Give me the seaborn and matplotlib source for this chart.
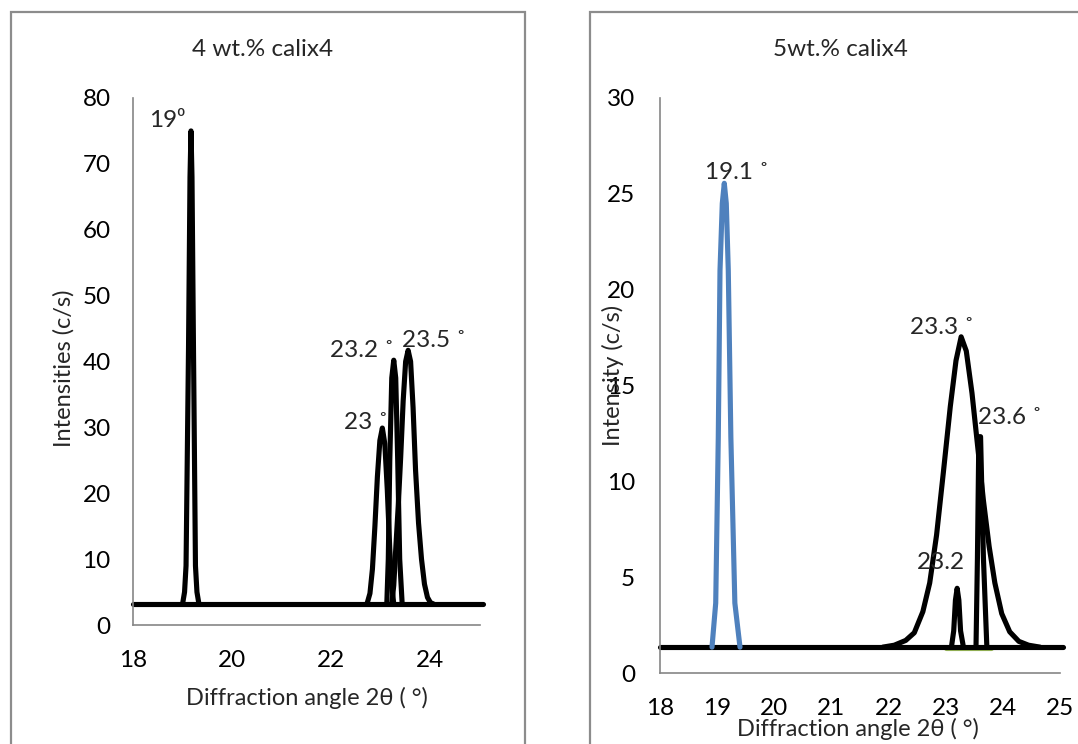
import matplotlib
matplotlib.use("Agg")
import matplotlib.pyplot as plt
from matplotlib.patches import Rectangle
import seaborn as sns
import pandas as pd

# ---------------- data ----------------
# Left panel: 4 wt.% calix4
l_base_x = [18.0, 25.07]
l_base_y = [3.2, 3.2]
l_p19_x = [19.00, 19.04, 19.07, 19.12, 19.15, 19.17, 19.19, 19.22, 19.26, 19.29, 19.33]
l_p19_y = [3.2, 5.0, 9.0, 42.0, 68.0, 75.0, 68.0, 42.0, 9.0, 5.0, 3.2]
l_p23_x = [22.72, 22.78, 22.83, 22.88, 22.93, 22.98, 23.03, 23.08, 23.13, 23.18, 23.22, 23.26]
l_p23_y = [3.2, 4.8, 8.5, 15.0, 22.5, 28.0, 29.9, 27.5, 20.5, 11.5, 6.0, 3.2]
l_p232_x = [23.12, 23.15, 23.18, 23.22, 23.26, 23.30, 23.34, 23.38, 23.43]
l_p232_y = [3.2, 10.0, 25.0, 37.5, 40.2, 37.5, 25.0, 10.0, 3.2]
l_p235_x = [23.22, 23.26, 23.30, 23.35, 23.40, 23.45, 23.50, 23.55, 23.60, 23.65,
            23.70, 23.76, 23.82, 23.88, 23.94, 24.00, 24.06]
l_p235_y = [3.2, 6.0, 11.5, 18.0, 25.5, 34.0, 40.0, 41.7, 40.0, 33.0,
            23.5, 15.5, 10.0, 6.2, 4.2, 3.4, 3.2]

# Right panel: 5 wt.% calix4
r_base_x = [18.0, 25.05]
r_base_y = [1.35, 1.35]
r_green_x = [23.0, 23.8]
r_green_y = [1.28, 1.28]
r_p191_x = [18.91, 18.975, 19.02, 19.05, 19.09, 19.125, 19.16, 19.195, 19.24, 19.31, 19.40]
r_p191_y = [1.35, 3.65, 12.3, 21.0, 24.5, 25.55, 24.5, 21.0, 12.3, 3.65, 1.35]
r_p233_x = [21.90, 22.10, 22.30, 22.45, 22.60, 22.72, 22.84, 22.96, 23.08, 23.18, 23.27,
            23.36, 23.46, 23.56, 23.66, 23.76, 23.86, 23.98, 24.12, 24.28, 24.45, 24.65]
r_p233_y = [1.35, 1.45, 1.7, 2.1, 3.2, 4.7, 7.2, 10.5, 13.9, 16.3, 17.54,
            16.8, 14.6, 11.8, 9.0, 6.6, 4.7, 3.1, 2.15, 1.65, 1.45, 1.35]
r_p232_x = [23.10, 23.14, 23.17, 23.20, 23.23, 23.26, 23.31]
r_p232_y = [1.35, 2.2, 3.8, 4.42, 3.8, 2.2, 1.35]
r_p236_x = [23.53, 23.555, 23.58, 23.61, 23.66, 23.72]
r_p236_y = [1.35, 6.0, 12.33, 12.33, 6.0, 1.35]

left_labels = ["19\u2070", "23.2 \u02da", "23.5 \u02da", "23 \u02da"]
left_label_pos = [(18.69, 76.6), (22.61, 41.7), (24.08, 43.2), (22.70, 30.8)]
right_labels = ["19.1 \u02da", "23.3 \u02da", "23.6 \u02da", "23.2"]
right_label_pos = [(19.35, 26.1), (22.94, 18.05), (24.13, 13.35), (22.92, 5.79)]

left_xticks = [18, 20, 22, 24]
left_yticks = [0, 10, 20, 30, 40, 50, 60, 70, 80]
right_xticks = [18, 19, 20, 21, 22, 23, 24, 25]
right_yticks = [0, 5, 10, 15, 20, 25, 30]

# ---------------- styling ----------------
sns.set_style("white")
FAM = ["Lato", "DejaVu Sans"]
plt.rcParams["font.family"] = FAM

BLACK = "#000000"
BLUE = "#4F81BD"
GREEN = "#9BBB59"
GRAY = "#868686"
LW = 3.7

fig = plt.figure(figsize=(10.78, 7.44), dpi=100)
W, H = 1078, 744
ax1 = fig.add_axes([133 / W, (H - 625) / H, 347 / W, 527 / H])
ax2 = fig.add_axes([660 / W, (H - 673) / H, 400 / W, 575 / H])

# chart frames
fig.add_artist(Rectangle((11 / W, -0.1), (525 - 11) / W, (H - 12) / H + 0.1,
                         transform=fig.transFigure, fill=False, ec="#8c8c8c", lw=1.6))
fig.add_artist(Rectangle((590 / W, -0.1), 0.5, (H - 12) / H + 0.1,
                         transform=fig.transFigure, fill=False, ec="#8c8c8c", lw=1.6))


def draw(ax, x, y, color, lw=LW, z=2):
    df = pd.DataFrame({"x": x, "y": y})
    sns.lineplot(data=df, x="x", y="y", ax=ax, color=color, lw=lw, sort=False,
                 estimator=None, zorder=z, solid_capstyle="round",
                 solid_joinstyle="round")
    ax.lines[-1].set_clip_on(False)


# left
for xs, ys in [(l_base_x, l_base_y), (l_p19_x, l_p19_y), (l_p23_x, l_p23_y),
               (l_p232_x, l_p232_y), (l_p235_x, l_p235_y)]:
    draw(ax1, xs, ys, BLACK)
# right
draw(ax2, r_green_x, r_green_y, GREEN, lw=3.7, z=1)
draw(ax2, r_base_x, r_base_y, BLACK)
draw(ax2, r_p191_x, r_p191_y, BLUE)
for xs, ys in [(r_p233_x, r_p233_y), (r_p232_x, r_p232_y), (r_p236_x, r_p236_y)]:
    draw(ax2, xs, ys, BLACK)

TS = 17.5
LS = 17
for ax, xt, yt, xl, yl in [(ax1, left_xticks, left_yticks, (18, 25), (0, 80)),
                           (ax2, right_xticks, right_yticks, (18, 25), (0, 30))]:
    ax.set_xlim(*xl)
    ax.set_ylim(*yl)
    ax.set_xticks(xt)
    ax.set_yticks(yt)
    for s in ["top", "right"]:
        ax.spines[s].set_visible(False)
    for s in ["left", "bottom"]:
        ax.spines[s].set_color(GRAY)
        ax.spines[s].set_linewidth(1.2)
    ax.tick_params(axis="both", direction="out", length=6, width=1.2, color=GRAY,
                   labelsize=TS, labelcolor="black")
    ax.grid(False)

ax1.tick_params(axis="y", pad=10)
ax1.tick_params(axis="x", pad=12)
ax2.tick_params(axis="y", pad=12)
ax2.tick_params(axis="x", pad=12)

ax1.set_xlabel("Diffraction angle 2\u03b8 ( \u00b0)", fontsize=LS)
ax1.set_ylabel("Intensities (c/s)", fontsize=LS)
ax1.xaxis.set_label_coords(0.5, -(687 - 625) / 527)
ax1.yaxis.set_label_coords((75 - 133) / 347, (625 - 368) / 527)

ax2.set_xlabel("Diffraction angle 2\u03b8 ( \u00b0)", fontsize=LS)
ax2.set_ylabel("Intensity (c/s)", fontsize=LS)
ax2.xaxis.set_label_coords((858 - 660) / 400, -(718 - 673) / 575)
ax2.yaxis.set_label_coords((624 - 660) / 400, (673 - 375) / 575)
ax2.yaxis.label.set_zorder(5)

fig.text(263 / W, 1 - 50 / H, "4 wt.% calix4", ha="center", va="center", fontsize=17.5)
fig.text(840 / W, 1 - 50 / H, "5wt.% calix4", ha="center", va="center", fontsize=17.5)

for t, (x, y) in zip(left_labels, left_label_pos):
    ax1.text(x, y, t, ha="center", va="center", fontsize=TS, family=FAM)
for t, (x, y) in zip(right_labels, right_label_pos):
    ax2.text(x, y, t, ha="center", va="center", fontsize=TS, family=FAM)

fig.savefig("out.png", dpi=100)
